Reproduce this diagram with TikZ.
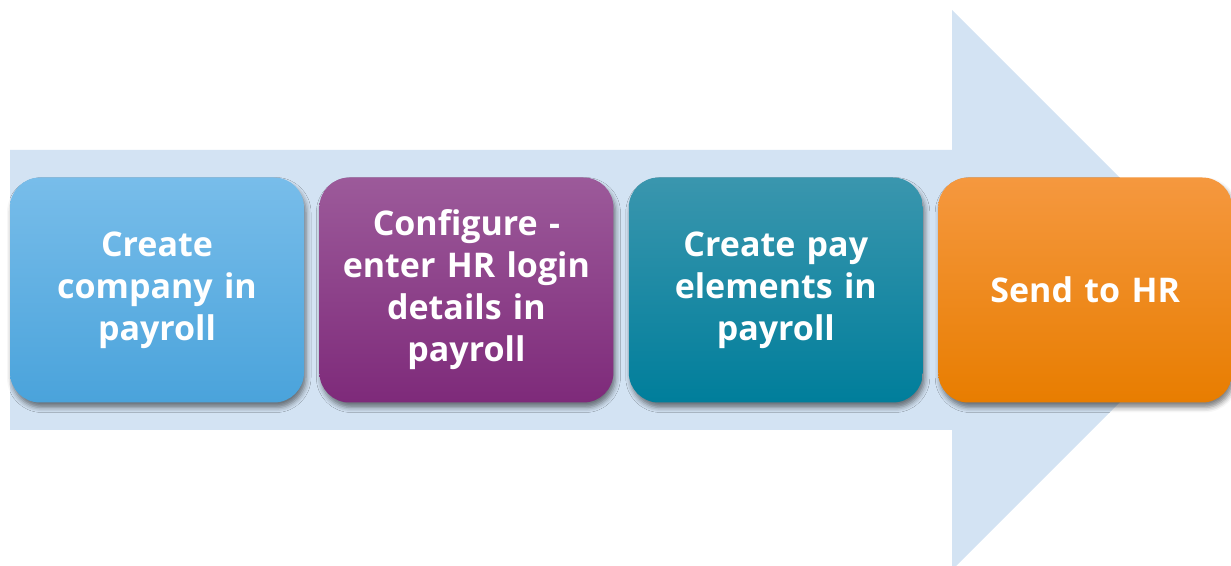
\documentclass[tikz,border=0pt]{standalone}
\usepackage{fontspec}
\setsansfont{Open Sans}
\usetikzlibrary{positioning,shadows.blur}
\definecolor{arrowblue}{HTML}{D3E3F3}
\definecolor{companytop}{HTML}{78BDEA}
\definecolor{companybottom}{HTML}{4AA3DB}
\definecolor{configuretop}{HTML}{9C5A9A}
\definecolor{configurebottom}{HTML}{7E2A7A}
\definecolor{elementstop}{HTML}{3A96AE}
\definecolor{elementsbottom}{HTML}{007E9B}
\definecolor{sendtop}{HTML}{F5983F}
\definecolor{sendbottom}{HTML}{E87D00}

\begin{document}
\begin{tikzpicture}[x=1pt, y=1pt,
    stepbox/.style={rounded corners=30pt, minimum width=294pt, minimum height=225pt,
      text width=280pt, align=center, text=white, inner sep=0pt,
      font=\sffamily\bfseries\fontsize{34}{42}\selectfont,
      blur shadow={shadow xshift=2pt, shadow yshift=-5pt, shadow blur radius=5pt, shadow opacity=50}}]
        \useasboundingbox (0,0) rectangle (1231,565);
        \clip (0,0) rectangle (1231,565);

        % Big arrow behind the steps
        \fill[arrowblue] (10,135) -- (10,415) -- (952,415) -- (952,555) -- (1232,275)
          -- (952,-5) -- (952,135) -- cycle;

        % Steps
        \node[stepbox, top color=companytop, bottom color=companybottom] (company) at (157,275) {Create\\company in\\payroll};
        \node[stepbox, top color=configuretop, bottom color=configurebottom, right=15pt of company] (configure) {Configure -\\enter HR login\\details in\\payroll};
        \node[stepbox, top color=elementstop, bottom color=elementsbottom, right=15pt of configure] (elements) {Create pay\\elements in\\payroll};
        \node[stepbox, top color=sendtop, bottom color=sendbottom, right=15pt of elements] (send) {Send to HR};
      \end{tikzpicture}
\end{document}
